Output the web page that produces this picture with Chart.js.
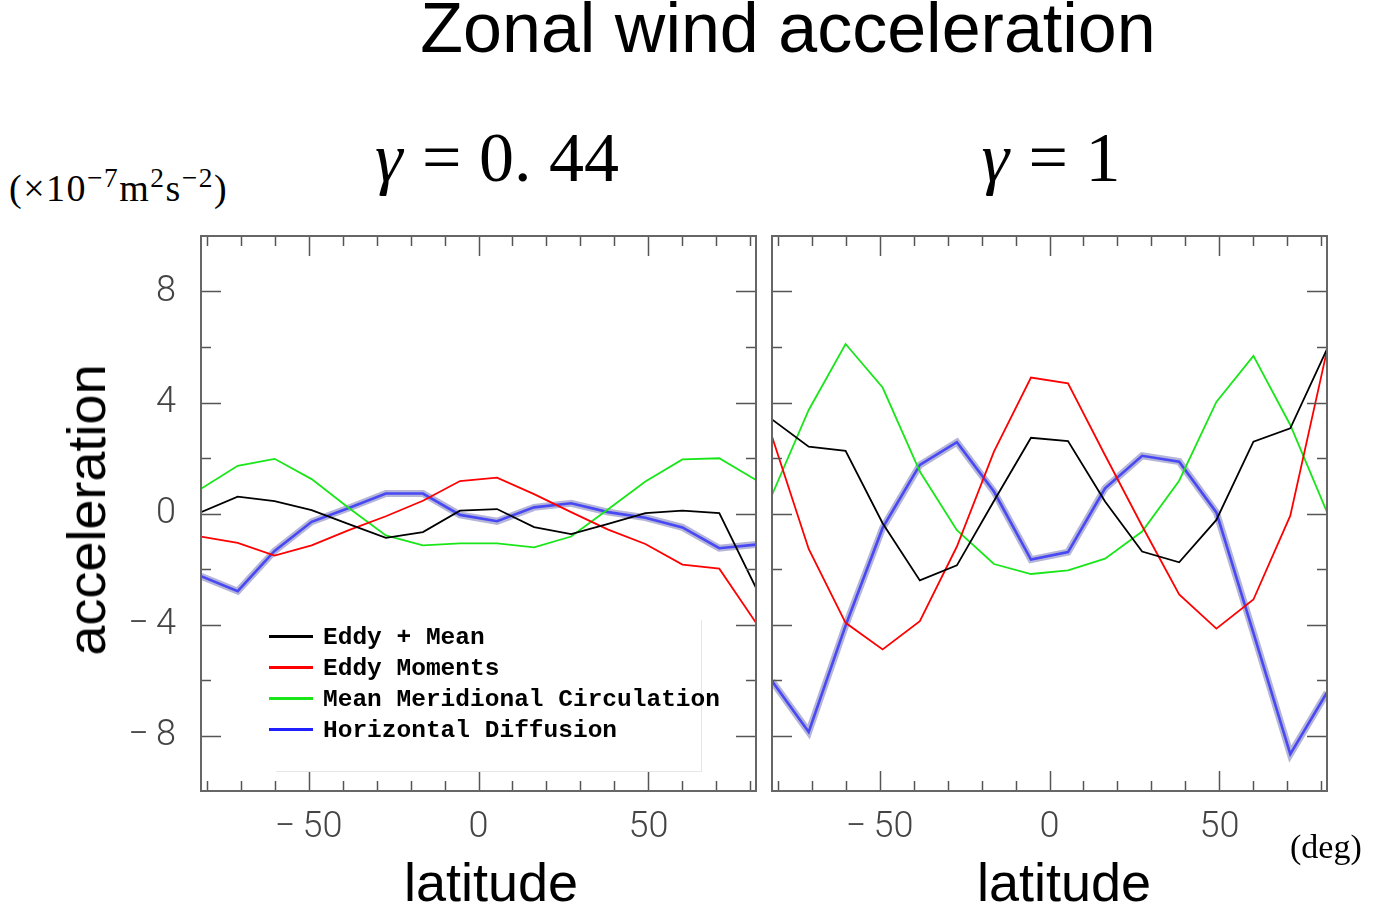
<!DOCTYPE html>
<html lang="en">
<head>
    <meta charset="UTF-8">
    <title>Zonal wind acceleration</title>
    <script src="https://cdn.jsdelivr.net/npm/chart.js"></script>
    <style>
        body {
            margin: 0;
            width: 1397px;
            height: 909px;
            overflow: hidden;
            background: #fff;
            font-family: 'Liberation Sans', Arial, sans-serif;
            color: #000;
            position: relative;
        }
        .abs { position: absolute; white-space: nowrap; }
        .title {
            left: 288px; width: 1000px; top: -7px;
            text-align: center;
            font-size: 70px; line-height: 70px;
        }
        .gamma {
            width: 400px; top: 118px;
            text-align: center;
            font-family: 'Liberation Serif', 'DejaVu Serif', serif;
            font-size: 70px; line-height: 80px;
        }
        .gamma i { margin-right: 2px; }
        .units {
            left: 9px; top: 168px;
            font-family: 'Liberation Serif', serif;
            font-size: 38px; line-height: 40px;
            letter-spacing: 1.5px;
        }
        .units sup { font-size: 0.72em; vertical-align: 0.5em; line-height: 0; }
        .deg {
            left: 1290px; top: 827px;
            font-family: 'Liberation Serif', serif;
            font-size: 34px; line-height: 40px;
        }
        .ylab {
            left: 86px; top: 510px;
            transform: translate(-50%, -50%) rotate(-90deg);
            font-size: 54px; line-height: 60px;
        }
        .xlab {
            width: 400px; top: 852px;
            text-align: center;
            font-size: 54px; line-height: 60px;
        }
        .chartbox { position: absolute; top: 226px; height: 644px; }
        .legend-bg {
            left: 276px; top: 620px; width: 425px; height: 151px;
            background: #fff;
            border-right: 1px solid #e6e6e6;
            border-bottom: 1px solid #e6e6e6;
        }
        .legend-row {
            left: 269px; height: 31px;
            font-family: 'Liberation Mono', 'DejaVu Sans Mono', monospace;
            font-weight: bold; font-size: 24.5px; line-height: 31px;
        }
        .legend-row span.sw {
            display: inline-block; width: 44px; height: 3px;
            vertical-align: middle; margin-right: 10px; margin-top: -3px;
        }
    </style>
</head>
<body>
    <div class="abs title">Zonal wind acceleration</div>
    <div class="abs gamma" style="left:297px"><i>γ</i> = 0. 44</div>
    <div class="abs gamma" style="left:851px"><i>γ</i> = 1</div>
    <div class="abs units">(×10<sup>−7</sup>m<sup>2</sup>s<sup>−2</sup>)</div>

    <div class="chartbox" style="left:0; width:766px;"><canvas id="left" width="766" height="644"></canvas></div>
    <div class="chartbox" style="left:762px; width:575px;"><canvas id="right" width="575" height="644"></canvas></div>

    <div class="abs legend-bg"></div>
    <div id="legend"></div>

    <div class="abs ylab">acceleration</div>
    <div class="abs xlab" style="left:291px">latitude</div>
    <div class="abs xlab" style="left:864px">latitude</div>
    <div class="abs deg">(deg)</div>

    <script>
        // Gaussian latitudes (deg)
        const lats = [-81.65, -70.85, -60.0, -49.1, -38.15, -27.25, -16.35, -5.45,
                      5.45, 16.35, 27.25, 38.15, 49.1, 60.0, 70.85, 81.65];

        const seriesNames = ['Eddy + Mean', 'Eddy Moments', 'Mean Meridional Circulation', 'Horizontal Diffusion'];
        const seriesColors = ['#000000', '#ff0000', '#19e619', '#2020ff'];

        // gamma = 0.44
        const eddyMean044 = [0.05, 0.61, 0.45, 0.12, -0.38, -0.88, -0.67, 0.10, 0.16, -0.49, -0.74, -0.37, 0.01, 0.10, 0.01, -2.68];
        const eddyMom044  = [-0.83, -1.06, -1.52, -1.15, -0.60, -0.10, 0.46, 1.17, 1.29, 0.70, 0.05, -0.58, -1.10, -1.84, -1.99, -3.94];
        const meanCirc044 = [0.89, 1.72, 1.97, 1.24, 0.20, -0.79, -1.15, -1.08, -1.08, -1.22, -0.83, 0.15, 1.15, 1.95, 1.99, 1.21];
        const hDiff044    = [-2.26, -2.80, -1.35, -0.30, 0.20, 0.72, 0.72, -0.05, -0.28, 0.22, 0.37, 0.05, -0.15, -0.50, -1.25, -1.12];

        // gamma = 1
        const eddyMean1 = [3.39, 2.41, 2.26, -0.35, -2.41, -1.87, 0.45, 2.73, 2.61, 0.43, -1.37, -1.76, -0.23, 2.59, 3.07, 5.92];
        const eddyMom1  = [2.77, -1.28, -3.94, -4.90, -3.88, -1.19, 2.23, 4.90, 4.69, 2.10, -0.45, -2.92, -4.15, -3.10, -0.08, 5.88];
        const meanCirc1 = [0.67, 3.73, 6.11, 4.54, 1.51, -0.60, -1.82, -2.18, -2.05, -1.63, -0.65, 1.18, 4.02, 5.68, 3.19, 0.05];
        const hDiff1    = [-6.04, -7.87, -4.04, -0.52, 1.75, 2.57, 0.79, -1.66, -1.39, 0.91, 2.08, 1.87, 0.04, -4.30, -8.67, -6.45];

        const xTickVals = [-50, 0, 50];
        const yTickVals = [-8, -4, 0, 4, 8];

        const pts = arr => arr.map((v, i) => ({ x: lats[i], y: v }));

        function minusLabel(v) {
            return v < 0 ? '\u2212\u2009' + Math.abs(v) : String(v);
        }

        // frame box and inward ticks on all four sides
        const frameTicks = {
            id: 'frameTicks',
            afterDraw(chart) {
                const { ctx, chartArea: a, scales: { x, y } } = chart;
                ctx.save();
                ctx.strokeStyle = '#555';
                ctx.lineWidth = 1.5;
                ctx.beginPath();
                for (let v = -80; v <= 80; v += 10) {
                    const px = Math.round(x.getPixelForValue(v)) + 0.5;
                    const len = v % 50 === 0 ? 20 : 10;
                    ctx.moveTo(px, a.top); ctx.lineTo(px, a.top + len);
                    ctx.moveTo(px, a.bottom); ctx.lineTo(px, a.bottom - len);
                }
                for (let v = -8; v <= 8; v += 2) {
                    const py = Math.round(y.getPixelForValue(v)) + 0.5;
                    const len = v % 4 === 0 ? 20 : 10;
                    ctx.moveTo(a.left, py); ctx.lineTo(a.left + len, py);
                    ctx.moveTo(a.right, py); ctx.lineTo(a.right - len, py);
                }
                ctx.stroke();
                ctx.strokeStyle = '#666';
                ctx.lineWidth = 2;
                ctx.strokeRect(a.left, a.top, a.right - a.left, a.bottom - a.top);
                ctx.restore();
            }
        };

        function makeDatasets(em, mom, circ, diff) {
            const line = (label, data, color, width) => ({
                label, data: pts(data), borderColor: color, borderWidth: width,
                pointRadius: 0, tension: 0, fill: false
            });
            return [
                line(seriesNames[0], em, seriesColors[0], 1.8),
                line(seriesNames[1], mom, seriesColors[1], 1.8),
                line(seriesNames[2], circ, seriesColors[2], 1.8),
                line(seriesNames[3], diff, '#4848f4', 2.6),
                line('halo', diff, 'rgba(150,150,200,0.7)', 7)
            ];
        }

        function makeChart(id, datasets, yWidth, showY) {
            return new Chart(document.getElementById(id), {
                type: 'line',
                data: { datasets },
                options: {
                    responsive: false,
                    animation: false,
                    devicePixelRatio: 1,
                    layout: { padding: { top: 10, right: 10, left: 0, bottom: 0 } },
                    plugins: { legend: { display: false }, tooltip: { enabled: false } },
                    scales: {
                        x: {
                            type: 'linear', min: -81.65, max: 81.65,
                            grid: { display: false }, border: { display: false },
                            afterBuildTicks: s => { s.ticks = xTickVals.map(v => ({ value: v })); },
                            afterFit: s => { s.height = 79; s.paddingLeft = 0; s.paddingRight = 0; },
                            ticks: {
                                callback: minusLabel, color: '#444', padding: 7,
                                maxRotation: 0, autoSkip: false,
                                font: { family: 'Roboto', size: 36, weight: '300' }
                            }
                        },
                        y: {
                            min: -10, max: 10,
                            grid: { display: false }, border: { display: false },
                            afterBuildTicks: s => { s.ticks = yTickVals.map(v => ({ value: v })); },
                            afterFit: s => { s.width = yWidth; s.paddingTop = 0; s.paddingBottom = 0; },
                            ticks: {
                                display: showY, callback: minusLabel, color: '#444', padding: 17,
                                font: { family: 'Roboto', size: 36, weight: '300' }
                            }
                        }
                    }
                },
                plugins: [frameTicks]
            });
        }

        makeChart('left', makeDatasets(eddyMean044, eddyMom044, meanCirc044, hDiff044), 201, true);
        makeChart('right', makeDatasets(eddyMean1, eddyMom1, meanCirc1, hDiff1), 10, false);

        // legend rows
        const legend = document.getElementById('legend');
        seriesNames.forEach((name, i) => {
            const row = document.createElement('div');
            row.className = 'abs legend-row';
            row.style.top = (622 + i * 31) + 'px';
            row.innerHTML = '<span class="sw" style="background:' + seriesColors[i] + '"></span>' + name;
            legend.appendChild(row);
        });
    </script>
</body>
</html>
